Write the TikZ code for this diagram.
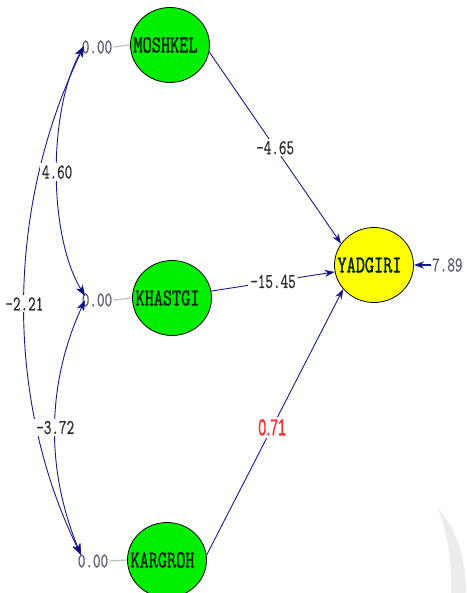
\documentclass[tikz,border=0pt]{standalone}
\usepackage{fontspec}
\usepackage{graphicx}
\newfontfamily\namefont[FakeBold=1.6]{Latin Modern Mono}
\newfontfamily\numfont[FakeBold=0.8]{Latin Modern Mono}
\newfontfamily\lsans[FakeBold=1.2]{Liberation Sans}
\usetikzlibrary{arrows.meta,shapes.geometric}
\definecolor{navyline}{RGB}{25,25,140}
\definecolor{navytip}{RGB}{10,10,120}
\definecolor{limeg}{RGB}{0,238,0}
\definecolor{yel}{RGB}{255,255,0}
\definecolor{lblc}{RGB}{45,45,45}
\definecolor{varc}{RGB}{95,90,115}
\definecolor{redl}{RGB}{255,45,45}
\newcommand{\lname}[1]{\makebox[0pt]{\raisebox{-1.5pt}{\scalebox{0.74}[1]{#1}}\kern9pt}}
\newcommand{\sqz}[1]{\scalebox{0.70}[1]{#1}}
\tikzset{
  lat/.style={ellipse, draw=black, line width=0.8pt, minimum width=79pt, minimum height=75pt,
    inner sep=0pt, text=black!85!green, font=\namefont\fontsize{24}{24}\selectfont},
  exo/.style={lat, fill=limeg},
  endo/.style={lat, fill=yel},
  lbl/.style={fill=white, inner sep=2pt, text=lblc, font=\numfont\fontsize{21}{21}\selectfont},
  varlbl/.style={inner sep=1pt, text=varc, font=\numfont\fontsize{21}{21}\selectfont},
  redlbl/.style={fill=white, inner sep=2pt, text=redl, font=\lsans\fontsize{23}{23}\selectfont},
  pth/.style={draw=navyline, line width=0.9pt, -{Stealth[length=10pt,width=7pt,inset=3pt,fill=navytip]}},
  cov/.style={draw=navyline, line width=0.9pt, {Stealth[length=11pt,width=8pt,inset=3pt,fill=navytip]}-{Stealth[length=11pt,width=8pt,inset=3pt,fill=navytip]}},
  vline/.style={draw=gray!50, line width=1.2pt}
}
\begin{document}
\begin{tikzpicture}[x=1pt,y=-1pt]
\useasboundingbox (0,0) rectangle (466,593);
% page curl
\fill[gray!15] (437,507) .. controls (458,530) and (466,560) .. (466,593)
  -- (451,593) .. controls (452,560) and (447,530) .. (437,507) -- cycle;
% latent variables
\node[exo] (MOSHKEL) at (170,45) {\lname{MOSHKEL}};
\node[exo] (KHASTGI) at (172,298) {\lname{KHASTGI}};
\node[exo] (KARGROH) at (167,560) {\lname{KARGROH}};
\node[endo] (YADGIRI) at (374,265) {\lname{YADGIRI}};
% variance labels
\node[varlbl] (vm) at (97,47) {\sqz{0.00}};
\node[varlbl] (vk) at (97,300) {\sqz{0.00}};
\node[varlbl] (vg) at (93,561) {\sqz{0.00}};
\draw[vline] (vm.east) -- (MOSHKEL.west);
\draw[vline] (vk.east) -- (KHASTGI.west);
\draw[vline] (vg.east) -- (KARGROH.west);
% covariance end points
\coordinate (cm) at (84,46);
\coordinate (ck1) at (85,296);
\coordinate (ck2) at (85,300);
\coordinate (cg) at (81,555);
\draw[cov] (cm) .. controls (5,210) and (5,400) .. (cg) node[lbl,pos=.5] (l221) {\sqz{-2.21}};
\draw[cov] (cm) .. controls (48,110) and (48,235) .. (ck1) node[lbl,pos=.5] (l460) {\sqz{4.60}};
\draw[cov] (ck2) .. controls (46,385) and (46,470) .. (cg) node[lbl,pos=.5] (l372) {\sqz{-3.72}};
% paths
\draw[pth] (MOSHKEL.-10) -- (YADGIRI.147) node[lbl,pos=.5] (l465) {\sqz{-4.65}};
\draw[pth] (KHASTGI.10) -- (YADGIRI.190) node[lbl,pos=.5] (l1545) {\sqz{-15.45}};
\draw[pth] (KARGROH.7) -- (YADGIRI.218) node[redlbl,pos=.48] (l071) {\scalebox{0.62}[1]{0.71}};
% error
\coordinate (ey) at (431,265);
\draw[pth, line width=1.5pt] (ey) -- (YADGIRI.east);
\node[varlbl, anchor=west] (err) at (431,265) {\sqz{7.89}};
\end{tikzpicture}
\end{document}
